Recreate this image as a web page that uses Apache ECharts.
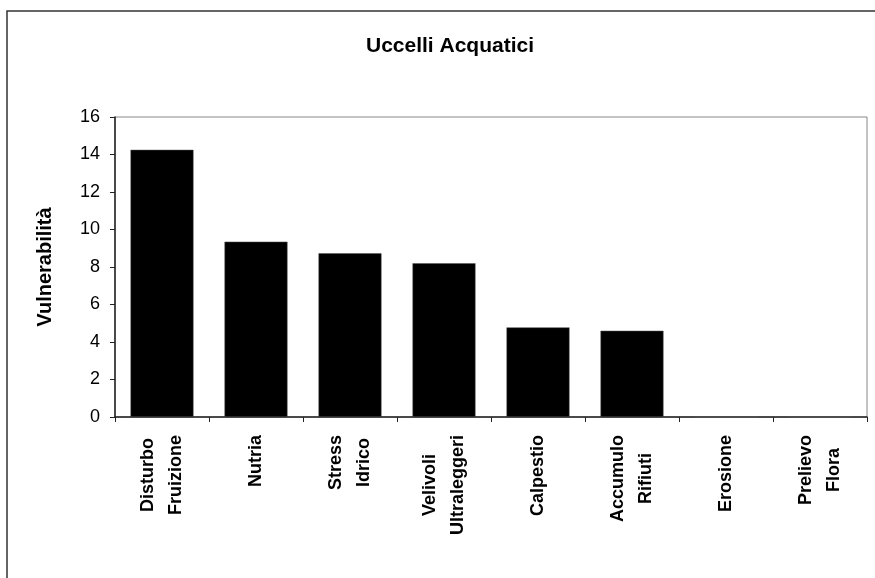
<!DOCTYPE html>
<html>
<head>
<meta charset="utf-8">
<script src="https://cdn.jsdelivr.net/npm/echarts@6/dist/echarts.min.js"></script>
<style>html,body{margin:0;padding:0;background:#fff;}#c{width:875px;height:578px;}</style>
</head>
<body>
<div id="c"></div>
<script>
const categories = ['Disturbo\nFruizione', 'Nutria', 'Stress\nIdrico', 'Velivoli\nUltraleggeri', 'Calpestio', 'Accumulo\nRifiuti', 'Erosione', 'Prelievo\nFlora'];
const values = [14.25, 9.35, 8.73, 8.2, 4.78, 4.6, 0, 0];
const yTicks = { min: 0, max: 16, interval: 2 };
const titleText = 'Uccelli Acquatici';
const yName = 'Vulnerabilità';

const chart = echarts.init(document.getElementById('c'));
const font = 'Liberation Sans, Arial, sans-serif';
chart.setOption({
  animation: false,
  backgroundColor: '#fff',
  graphic: [{
    type: 'rect', shape: { x: 7, y: 11, width: 1000, height: 1000 },
    style: { fill: 'none', stroke: '#333', lineWidth: 1.5 }, z: -1
  }],
  title: {
    text: titleText, left: 445, top: 31, textAlign: 'center',
    textStyle: { fontFamily: font, fontWeight: 'bold', fontSize: 21, color: '#000' }
  },
  grid: { left: 115, top: 117, width: 752, height: 300, show: true, borderColor: '#888', borderWidth: 1, containLabel: false },
  xAxis: {
    type: 'category', data: categories,
    axisLine: { lineStyle: { color: '#222', width: 1.5 } },
    axisTick: { show: true, inside: false, length: 5, lineStyle: { color: '#222' } },
    axisLabel: {
      rotate: 90, margin: 18, interval: 0,
      fontFamily: font, fontWeight: 'bold', fontSize: 18, color: '#000', lineHeight: 28,
      formatter: v => v.split('\n').map(s => '{c|' + s + '}').join('\n'),
      rich: { c: { align: 'center', fontFamily: font, fontWeight: 'bold', fontSize: 18, color: '#000', lineHeight: 28 } }
    }
  },
  yAxis: {
    type: 'value', min: yTicks.min, max: yTicks.max, interval: yTicks.interval,
    name: yName, nameLocation: 'middle', nameRotate: 90, nameGap: 60,
    nameTextStyle: { fontFamily: font, fontWeight: 'bold', fontSize: 20, color: '#000' },
    axisLine: { show: true, lineStyle: { color: '#222', width: 1.5 } },
    axisTick: { show: true, inside: false, length: 5, lineStyle: { color: '#222' } },
    splitLine: { show: false },
    axisLabel: { margin: 15, fontFamily: font, fontSize: 18, color: '#000' }
  },
  series: [{
    type: 'bar', data: values, barWidth: 63,
    itemStyle: { color: '#000', borderColor: '#555', borderWidth: 0.5 }
  }]
});
</script>
</body>
</html>
